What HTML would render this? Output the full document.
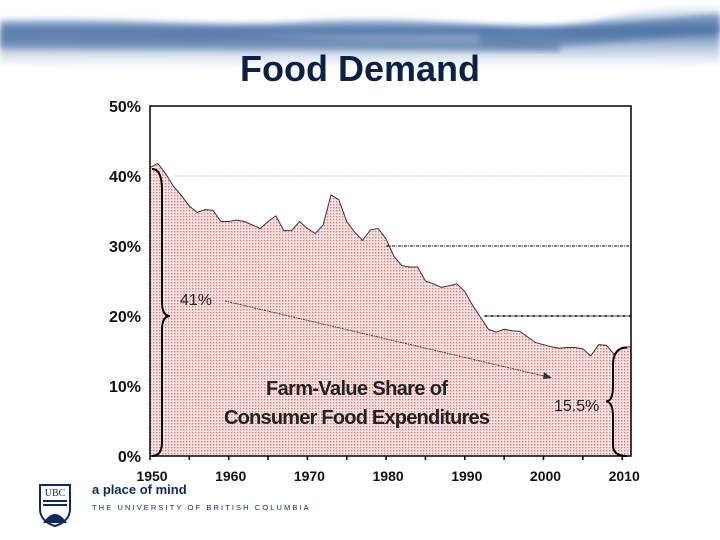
<!DOCTYPE html>
<html><head><meta charset="utf-8"><style>
body{margin:0;width:720px;height:540px;overflow:hidden;background:#fff;position:relative;font-family:"Liberation Sans",sans-serif}
#water{position:absolute;left:0;top:0;width:720px;height:100px}
#title{position:absolute;left:0;width:720px;top:48px;text-align:center;font-size:36px;font-weight:bold;color:#0c2145;letter-spacing:0px}
#chart{position:absolute;left:0;top:0}
</style></head><body>
<svg id="water" width="720" height="100">
<defs>
<linearGradient id="wg" x1="0" y1="0" x2="0" y2="1">
<stop offset="0" stop-color="#fff"/><stop offset="0.2" stop-color="#c9d7e8"/><stop offset="0.4" stop-color="#4f76a8"/><stop offset="0.6" stop-color="#9fb7d4"/><stop offset="0.85" stop-color="#e8eef5"/><stop offset="1" stop-color="#fff"/></linearGradient>
<filter id="bl"><feGaussianBlur stdDeviation="3"/></filter>
</defs>
<path d="M0 20 C120 16 200 28 300 22 C420 12 520 36 600 20 C650 10 690 2 720 4 L720 64 C620 74 500 68 380 66 C250 64 120 74 0 64 Z" fill="url(#wg)" filter="url(#bl)"/>
<path d="M0 34 C100 38 200 28 280 36 C380 44 460 38 560 44 L560 52 C450 50 300 50 0 48Z" fill="#3f6699" opacity="0.5" filter="url(#bl)"/>
<path d="M480 30 C560 40 620 20 720 14 L720 32 C640 38 560 52 480 44Z" fill="#4b72a4" opacity="0.6" filter="url(#bl)"/>
</svg>
<div id="title">Food Demand</div>
<svg id="chart" width="720" height="540">
<defs>
<pattern id="dots" width="3" height="3" patternUnits="userSpaceOnUse">
<rect width="3" height="3" fill="#fbe4e4"/><rect width="1.4" height="1.4" fill="#d77a7a"/>
</pattern>
</defs>
<rect x="100" y="92" width="540" height="392" fill="#fff"/>
<g id="plot"></g>
</svg>
<div style="position:absolute;left:38px;top:483px">
<svg width="34" height="44"><path d="M2 2 H32 V26 C32 36 24 41 17 43 C10 41 2 36 2 26 Z" fill="#fff" stroke="#0c2a5b" stroke-width="2"/><text x="17" y="13" font-size="10" text-anchor="middle" fill="#0c2a5b" font-family="Liberation Serif">UBC</text><path d="M5 18 H29 M5 22 H29" stroke="#0c2a5b" stroke-width="2"/><path d="M5 40 Q17 22 29 40Z" fill="#0c2a5b"/></svg>
</div>
<div style="position:absolute;left:92px;top:482px;font-size:13px;font-weight:bold;color:#0c2a5b">a place of mind</div>
<div style="position:absolute;left:92px;top:503px;font-size:7.5px;color:#0c2a5b;letter-spacing:2.1px">THE UNIVERSITY OF BRITISH COLUMBIA</div>
<script>
const years=[1950,1951,1952,1953,1954,1955,1956,1957,1958,1959,1960,1961,1962,1963,1964,1965,1966,1967,1968,1969,1970,1971,1972,1973,1974,1975,1976,1977,1978,1979,1980,1981,1982,1983,1984,1985,1986,1987,1988,1989,1990,1991,1992,1993,1994,1995,1996,1997,1998,1999,2000,2001,2002,2003,2004,2005,2006,2007,2008,2009,2010,2011];
const share=[41.2,41.8,40.3,38.5,37.2,35.7,34.8,35.2,35.1,33.5,33.5,33.7,33.5,33,32.5,33.5,34.3,32.2,32.2,33.5,32.5,31.8,33,37.3,36.6,33.5,32,30.8,32.3,32.5,31,28.5,27.2,27,27,25,24.6,24.1,24.3,24.6,23.5,21.5,19.8,18.1,17.7,18.1,17.9,17.8,17,16.2,15.9,15.6,15.4,15.5,15.5,15.3,14.3,15.9,15.8,14.5,15.5,15.6];
const yTicks=[0,10,20,30,40,50];
const xTicks=[1950,1960,1970,1980,1990,2000,2010];
const NS='http://www.w3.org/2000/svg';
const X0=150,XPD=7.87,Y0=456,YPP=7.0;
const x=v=>X0+(v-1950)*XPD;
const y=v=>Y0-v*YPP;
const g=document.getElementById('plot');
function mk(t,a,txt){const e=document.createElementNS(NS,t);for(const k in a)e.setAttribute(k,a[k]);if(txt!==undefined)e.textContent=txt;g.appendChild(e);return e;}
const R=631;
let d='M'+x(years[0])+' '+y(0);
years.forEach((yr,i)=>{d+=' L'+Math.min(x(yr),R)+' '+y(share[i]);});
d+=' L'+R+' '+y(share[share.length-1])+' L'+R+' '+y(0)+' Z';
const area=mk('path',{d:d,fill:'url(#dots)',stroke:'none'});


let ld='';
years.forEach((yr,i)=>{ld+=(i?' L':'M')+Math.min(x(yr),R)+' '+y(share[i]);});
const line=mk('path',{d:ld,fill:'none',stroke:'#333',"stroke-width":1});


const r1=mk('line',{x1:x(1953),x2:R,y1:y(40),y2:y(40),stroke:'#999','stroke-dasharray':'1 2'});


const r2=mk('line',{x1:x(1980),x2:R,y1:y(30),y2:y(30),stroke:'#000','stroke-dasharray':'3 1 1 1'});


const r3=mk('line',{x1:x(1992.5),x2:R,y1:y(20),y2:y(20),stroke:'#000','stroke-width':1.5,'stroke-dasharray':'3 1 1 1'});


const bx=mk('rect',{x:X0,y:y(50),width:R-X0,height:y(0)-y(50),fill:'none',stroke:'#000','stroke-width':1.5});


yTicks.forEach(t=>{
 const l=mk('text',{x:X0-9,y:y(t)+6,'text-anchor':'end','font-size':16,'font-weight':'bold',fill:'#111'},t+'%');
 
 
});
xTicks.forEach(t=>{
 const l=mk('text',{x:x(t)+2,y:Y0+25,'text-anchor':'middle','font-size':14,'font-weight':'bold',fill:'#111'},String(t));
 
 
});
for(let t=1950;t<=2010;t+=5){
 const tk=mk('line',{x1:x(t),x2:x(t),y1:Y0,y2:Y0+4,stroke:'#000','stroke-width':1.5});
 
 
}
const b1=mk('path',{d:`M152 ${y(41)} Q162 ${y(41)} 162 ${y(38)} L162 ${y(22)} Q162 ${y(20)} 170 ${y(20)} Q162 ${y(20)} 162 ${y(18)} L162 ${y(2)} Q162 ${y(0)} 152 ${y(0)}`,fill:'none',stroke:'#000','stroke-width':2});


const b2=mk('path',{d:`M627 ${y(15.5)} Q613 ${y(15.5)} 613 ${y(13)} L613 ${y(10)} Q613 ${y(7.8)} 606 ${y(7.8)} Q613 ${y(7.8)} 613 ${y(5.5)} L613 ${y(1.5)} Q613 ${y(0)} 627 ${y(0)}`,fill:'none',stroke:'#000','stroke-width':2});


const t1=mk('text',{x:180,y:305,'font-size':16,fill:'#222'},'41%');


const t2=mk('text',{x:554,y:411,'font-size':16,fill:'#222'},'15.5%');


const ar=mk('line',{x1:225,y1:301,x2:548,y2:377,stroke:'#333','stroke-width':1,'stroke-dasharray':'2 1 1 1'});


const ah=mk('path',{d:'M552 378 L544 372 L543 379 Z',fill:'#333'});


const c1=mk('text',{x:357,y:395,'text-anchor':'middle','font-size':20,'font-weight':'bold',fill:'#222',textLength:182},'Farm-Value Share of');


const c2=mk('text',{x:357,y:424,'text-anchor':'middle','font-size':20,'font-weight':'bold',fill:'#222',textLength:266},'Consumer Food Expenditures');


</script>
</body></html>
